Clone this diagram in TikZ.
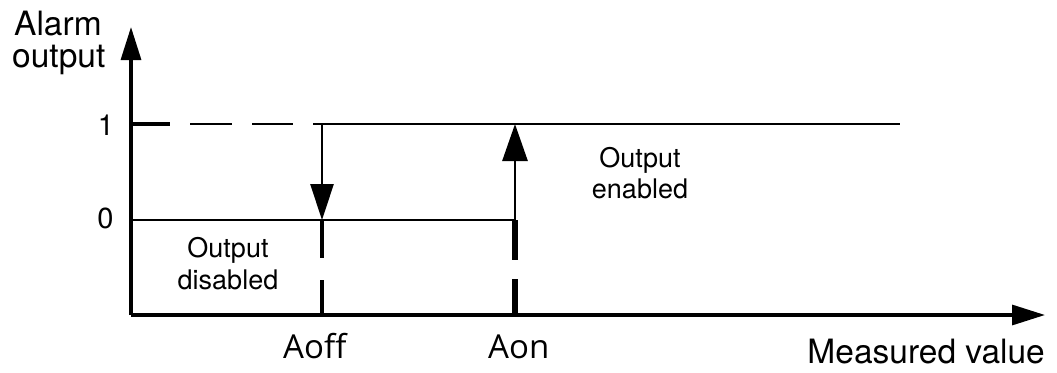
\documentclass[tikz,border=0pt]{standalone}
\usepackage{fontspec}
\setmainfont{TeX Gyre Heros}
\newfontfamily\lblfont{Open Sans}
\usetikzlibrary{arrows.meta}
\begin{document}
\begin{tikzpicture}[x=1pt,y=-1pt,
  axis/.style={line width=3.2pt,-{Triangle[length=33pt,width=20pt]}},
  level/.style={line width=2.8pt},
  thinv/.style={line width=2.8pt},
  big/.style={font=\fontsize{33.5}{36}\selectfont, inner sep=0pt},
  mid/.style={font=\fontsize{29}{32}\selectfont, inner sep=0pt},
  small/.style={font=\fontsize{27}{32}\selectfont, inner sep=0pt, align=center},
  poslabel/.style={font=\lblfont\fontsize{33}{36}\selectfont, inner sep=0pt}]
\useasboundingbox (0,0) rectangle (1057,372);
% coordinates
\coordinate (O) at (131,315);
\coordinate (Ytop) at (131,27);
\coordinate (Xend) at (1045,315);
\coordinate (L1a) at (131,124);
\coordinate (L1end) at (900,124);
\coordinate (L0a) at (131,220);
\coordinate (offtop) at (322,124);
\coordinate (offmid) at (322,220);
\coordinate (offbot) at (322,315);
\coordinate (ontop) at (515,124);
\coordinate (onmid) at (515,220);
\coordinate (onbot) at (515,315);
% axes
\draw[axis] (O) -- (Ytop);
\draw[axis] (O) -- (Xend);
% level 1
\draw[line width=3.8pt] (L1a) -- (170,124);
\draw[level] (190,124) -- (232,124);
\draw[level] (252,124) -- (293,124);
\draw[level] (313,124) -- (L1end);
% level 0
\draw[level] (L0a) -- (onmid);
% Aoff
\draw[thinv,-{Triangle[length=36pt,width=23pt]}] (offtop) -- (offmid);
\draw[line width=4.2pt] (offmid) -- (322,258);
\draw[line width=3.2pt] (322,280) -- (offbot);
% Aon
\draw[thinv,-{Triangle[length=37pt,width=25pt]}] (onmid) -- (ontop);
\draw[line width=6pt] (onmid) -- (515,260);
\draw[line width=6pt] (515,279) -- (onbot);
% labels
\node[big,anchor=base west] (alarm) at (14,35) {Alarm};
\node[big,anchor=base west] (outp) at (12,67) {output};
\node[mid,anchor=base] (one) at (106,135) {1};
\node[mid,anchor=base] (zero) at (105.5,228) {0};
\node[small,anchor=base] (dis1) at (228,257) {Output};
\node[small,anchor=base] (dis2) at (228,289) {disabled};
\node[small,anchor=base] (en1) at (640,167) {Output};
\node[small,anchor=base] (en2) at (640,198) {enabled};
\node[poslabel,anchor=base west] (aoff) at (283,358) {Aoff};
\node[poslabel,anchor=base west] (aon) at (488,358) {Aon};
\node[big,anchor=base east] (meas) at (1045,363) {Measured value};
\end{tikzpicture}
\end{document}
